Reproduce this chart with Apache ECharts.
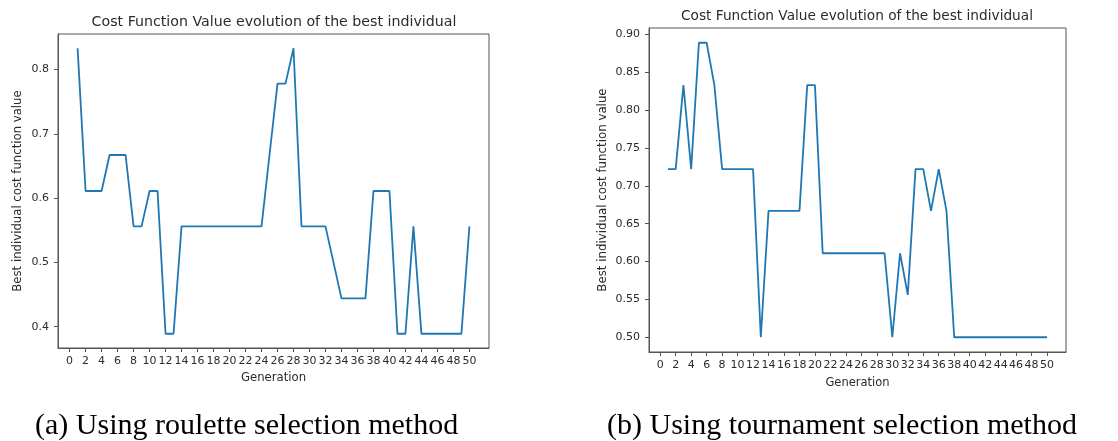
<!DOCTYPE html>
<html>
<head>
<meta charset="utf-8">
<title>Cost Function Value evolution</title>
<script src="https://cdn.jsdelivr.net/npm/echarts@6/dist/echarts.min.js"></script>
<style>
  html, body { margin: 0; padding: 0; background: #ffffff; }
  #chart { width: 1118px; height: 441px; }
</style>
</head>
<body>
<div id="chart"></div>
<script>
// Generations 1..50
const generations = Array.from({ length: 50 }, (_, i) => i + 1);

// Best individual cost per generation, roulette selection
const rouletteCost = [
  0.833, 0.611, 0.611, 0.611, 0.667, 0.667, 0.667, 0.556, 0.556, 0.611,
  0.611, 0.389, 0.389, 0.556, 0.556, 0.556, 0.556, 0.556, 0.556, 0.556,
  0.556, 0.556, 0.556, 0.556, 0.667, 0.778, 0.778, 0.833, 0.556, 0.556,
  0.556, 0.556, 0.500, 0.444, 0.444, 0.444, 0.444, 0.611, 0.611, 0.611,
  0.389, 0.389, 0.556, 0.389, 0.389, 0.389, 0.389, 0.389, 0.389, 0.556
];

// Best individual cost per generation, tournament selection
const tournamentCost = [
  0.722, 0.722, 0.833, 0.722, 0.889, 0.889, 0.833, 0.722, 0.722, 0.722,
  0.722, 0.722, 0.500, 0.667, 0.667, 0.667, 0.667, 0.667, 0.833, 0.833,
  0.611, 0.611, 0.611, 0.611, 0.611, 0.611, 0.611, 0.611, 0.611, 0.500,
  0.611, 0.556, 0.722, 0.722, 0.667, 0.722, 0.667, 0.500, 0.500, 0.500,
  0.500, 0.500, 0.500, 0.500, 0.500, 0.500, 0.500, 0.500, 0.500, 0.500
];

// Tick labels
const xTicks = Array.from({ length: 26 }, (_, i) => i * 2);
const rouletteYTicks = [0.4, 0.5, 0.6, 0.7, 0.8];
const tournamentYTicks = [0.50, 0.55, 0.60, 0.65, 0.70, 0.75, 0.80, 0.85, 0.90];

const titleText = 'Cost Function Value evolution of the best individual';
const xName = 'Generation';
const yName = 'Best individual cost function value';
const captionA = '(a) Using roulette selection method';
const captionB = '(b) Using tournament selection method';

const font = '"DejaVu Sans", sans-serif';
const serif = '"Liberation Serif", serif';
const ink = '#2b2b2b';
const lineBlue = '#1f77b4';

// matplotlib-style 5% padding around the data range
function padded(values) {
  const lo = Math.min(...values), hi = Math.max(...values);
  const m = (hi - lo) * 0.05;
  return [lo - m, hi + m];
}
const xRange = padded(generations);
const yRangeA = padded(rouletteCost);
const yRangeB = padded(tournamentCost);

function xAxisFor(gridIndex, gap, nameSize) {
  return {
    type: 'value', gridIndex,
    min: xRange[0], max: xRange[1],
    name: xName, nameLocation: 'middle', nameGap: gap,
    nameTextStyle: { fontFamily: font, fontSize: nameSize, color: ink },
    axisLine: { show: true, onZero: false, lineStyle: { color: '#555', width: 1 } },
    axisTick: { show: true, length: 4, customValues: xTicks, lineStyle: { color: '#555' } },
    axisLabel: {
      customValues: xTicks, margin: 8, hideOverlap: false,
      fontFamily: font, fontSize: 11, color: ink
    },
    splitLine: { show: false }
  };
}

function yAxisFor(gridIndex, ticks, range, digits, gap, nameSize) {
  return {
    type: 'value', gridIndex,
    min: range[0], max: range[1],
    name: yName, nameLocation: 'middle', nameGap: gap, nameRotate: 90,
    nameTextStyle: { fontFamily: font, fontSize: nameSize, color: ink },
    axisLine: { show: true, onZero: false, lineStyle: { color: '#555', width: 1 } },
    axisTick: { show: true, length: 4, customValues: ticks, lineStyle: { color: '#555' } },
    axisLabel: {
      customValues: ticks, margin: 9,
      formatter: v => Number(v).toFixed(digits),
      fontFamily: font, fontSize: 11, color: ink
    },
    splitLine: { show: false }
  };
}

function seriesFor(index, values) {
  return {
    type: 'line', xAxisIndex: index, yAxisIndex: index,
    data: generations.map((g, i) => [g, values[i]]),
    showSymbol: false, symbol: 'none', animation: false,
    lineStyle: { color: lineBlue, width: 1.8 },
    emphasis: { disabled: true }
  };
}

function textAt(x, y, text, size, family, align, color) {
  return {
    type: 'text', x, y,
    style: {
      text, fill: color, font: size + 'px ' + family,
      textAlign: align, textVerticalAlign: 'middle'
    }
  };
}

const chart = echarts.init(document.getElementById('chart'), null, { renderer: 'canvas' });
chart.setOption({
  backgroundColor: '#ffffff',
  animation: false,
  grid: [
    { left: 58, top: 34, width: 431, height: 314, show: true, borderColor: '#555', borderWidth: 1, backgroundColor: 'transparent' },
    { left: 649, top: 28, width: 417, height: 324, show: true, borderColor: '#555', borderWidth: 1, backgroundColor: 'transparent' }
  ],
  xAxis: [xAxisFor(0, 24, 11.7), xAxisFor(1, 25, 11.5)],
  yAxis: [
    yAxisFor(0, rouletteYTicks, yRangeA, 1, 34, 11.7),
    yAxisFor(1, tournamentYTicks, yRangeB, 2, 40, 11.8)
  ],
  series: [seriesFor(0, rouletteCost), seriesFor(1, tournamentCost)],
  graphic: [
    textAt(274, 22, titleText, 14.2, font, 'center', ink),
    textAt(857, 16, titleText, 13.7, font, 'center', ink),
    textAt(35, 426, captionA, 30, serif, 'left', '#000'),
    textAt(607, 426, captionB, 30, serif, 'left', '#000')
  ]
});
</script>
</body>
</html>
